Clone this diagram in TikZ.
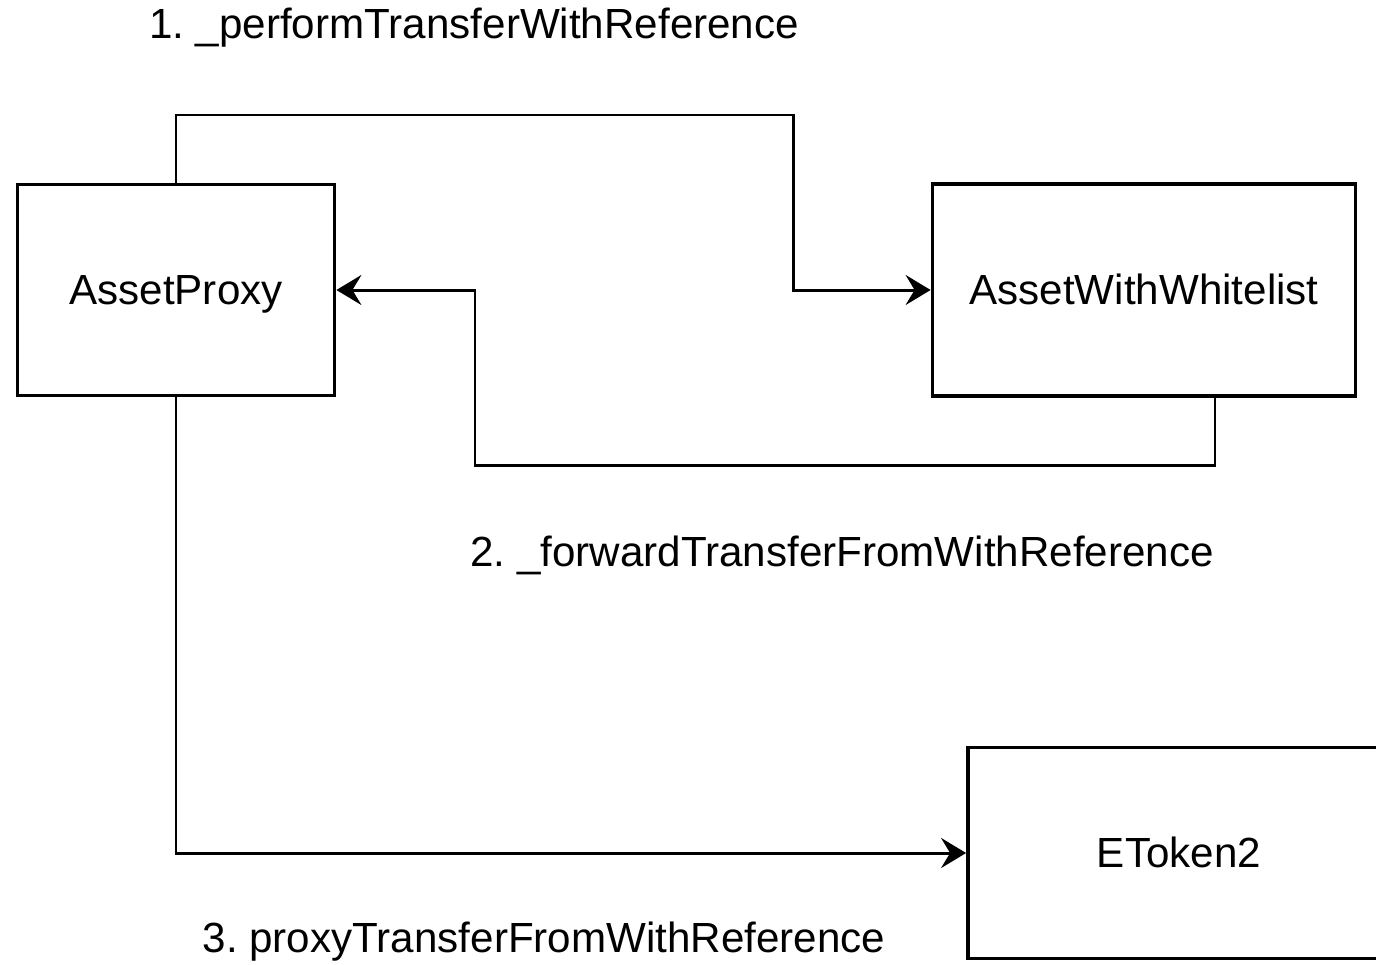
\documentclass[tikz,border=0pt]{standalone}
\usepackage{fontspec}
\setmainfont{Liberation Sans}
\frenchspacing
\usetikzlibrary{positioning,arrows.meta,calc}
\tikzstyle{block} = [rectangle, draw=black, line width=2.2pt, text centered, text height=17pt, text depth=0pt, font=\fontsize{24}{28}\selectfont]
\tikzstyle{arrow} = [line width=1.7pt,-{Stealth[length=0.5cm,width=0.6cm,inset=0.18cm]}]
\tikzstyle{callname} = [font=\fontsize{24}{28}\selectfont, inner sep=0pt]

\begin{document}
\begin{tikzpicture}[x=0.02cm, y=-0.02cm]
            \useasboundingbox (0,0) rectangle (1376,964);
            \clip (0,0) rectangle (1376,964);
            \node[block, minimum width=6.34cm, minimum height=4.22cm] (proxy) at (176,290) {AssetProxy};
            \node[block, minimum width=8.46cm, minimum height=4.24cm] (whitelist) at (1144,290) {AssetWithWhitelist};
            \node[block, minimum width=8.44cm, minimum height=4.22cm] (etoken) at (1179,853) {EToken2};
            
            \node[callname] (perform) at (474,28) {1. \_performTransferWithReference};
            \node[callname] (forward) at (842,555) {2. \_forwardTransferFromWithReference};
            \node[callname] (proxycall) at (544,942) {3. proxyTransferFromWithReference};
            
            % 1. proxy -> whitelist
            \draw[arrow] (proxy.north) |- (793,115) |- (whitelist.west);
            % 2. whitelist -> proxy
            \draw[arrow] ([xshift=1.42cm]whitelist.south) |- (475,465) |- (proxy.east);
            % 3. proxy -> etoken
            \draw[arrow] (proxy.south) |- (etoken.west);
            \end{tikzpicture}
\end{document}
